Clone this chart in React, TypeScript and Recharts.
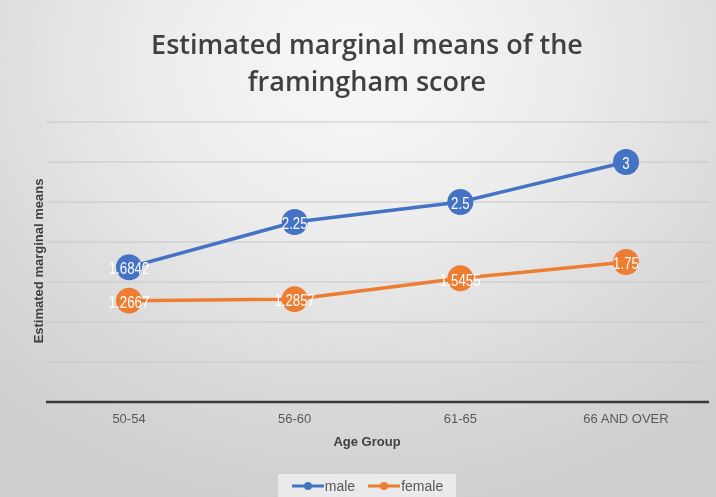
import React from 'react';
import { LineChart, Line, XAxis, YAxis, CartesianGrid, LabelList } from 'recharts';

const categories = ['50-54', '56-60', '61-65', '66 AND OVER'];
const maleValues = [1.6842, 2.25, 2.5, 3];
const femaleValues = [1.2667, 1.2857, 1.5455, 1.75];
const yTicks = [0, 0.5, 1, 1.5, 2, 2.5, 3, 3.5];

const data = categories.map((c, i) => ({ cat: c, male: maleValues[i], female: femaleValues[i] }));

const W = 716;
const H = 497;
const BLUE = '#4472C4';
const ORANGE = '#ED7D31';

const renderLabel = (props: any) => {
  const { x, y, value } = props;
  return (
    <text
      transform={`translate(${x},${y}) scale(0.78,1)`}
      x={0}
      y={1}
      textAnchor="middle"
      dominantBaseline="central"
      fill="#ffffff"
      fontSize={17}
      fontFamily="'Liberation Sans', Arial, sans-serif"
    >
      {value}
    </text>
  );
};

const Dot = (color: string) => (props: any) => {
  const { cx, cy } = props;
  return <circle cx={cx} cy={cy} r={13} fill={color} stroke="none" />;
};

export default function App() {
  return (
    <div
      style={{
        position: 'fixed',
        left: 0,
        top: 0,
        width: W,
        height: H,
        background: 'radial-gradient(ellipse 75% 90% at 50% 12%, #f8f8f8 0%, #ececec 40%, #dcdcdc 70%, #cfcfcf 100%)',
        fontFamily: "'Liberation Sans', Arial, sans-serif",
        overflow: 'hidden',
      }}
    >
      <div
        style={{
          position: 'absolute',
          left: 0,
          width: W,
          top: 25,
          textAlign: 'center',
          fontFamily: "'Open Sans', 'Noto Sans', sans-serif",
          fontWeight: 600,
          fontSize: 27,
          lineHeight: '37px',
          color: '#404040',
          paddingLeft: 18,
          boxSizing: 'border-box',
        }}
      >
        Estimated marginal means of the
        <br />
        framingham score
      </div>
      <LineChart
        width={W}
        height={H}
        data={data}
        margin={{ top: 122, right: 7, left: 46, bottom: 65 }}
      >
        <CartesianGrid horizontal vertical={false} stroke="#c8c8c8" strokeWidth={1.2} />
        <YAxis hide domain={[0, 3.5]} ticks={yTicks} />
        <XAxis
          dataKey="cat"
          height={30}
          padding={{ left: 83, right: 83 }}
          axisLine={{ stroke: '#3a3a3a', strokeWidth: 2.5 }}
          tickLine={false}
          tickMargin={6}
          tick={{ fill: '#595959', fontSize: 13 }}
        />
        <Line
          dataKey="male"
          stroke={BLUE}
          strokeWidth={3.5}
          dot={Dot(BLUE)}
          isAnimationActive={false}
        >
          <LabelList dataKey="male" content={renderLabel} />
        </Line>
        <Line
          dataKey="female"
          stroke={ORANGE}
          strokeWidth={3.5}
          dot={Dot(ORANGE)}
          isAnimationActive={false}
        >
          <LabelList dataKey="female" content={renderLabel} />
        </Line>
      </LineChart>
      <div
        style={{
          position: 'absolute',
          left: 0,
          width: W,
          top: 434,
          textAlign: 'center',
          fontWeight: 700,
          fontSize: 13,
          color: '#404040',
          paddingLeft: 18,
          boxSizing: 'border-box',
        }}
      >
        Age Group
      </div>
      <div
        style={{
          position: 'absolute',
          left: 38,
          top: 261,
          transform: 'translate(-50%, -50%) rotate(-90deg)',
          whiteSpace: 'nowrap',
          fontWeight: 700,
          fontSize: 13,
          color: '#404040',
        }}
      >
        Estimated marginal means
      </div>
      <div
        style={{
          position: 'absolute',
          left: 278,
          top: 474,
          width: 178,
          height: 23,
          background: 'rgba(245,245,245,0.7)',
          display: 'flex',
          alignItems: 'center',
          justifyContent: 'center',
          fontSize: 14,
          color: '#595959',
          gap: 12,
        }}
      >
        <span style={{ display: 'flex', alignItems: 'center' }}>
          <svg width={34} height={10}>
            <line x1={1} y1={5} x2={33} y2={5} stroke={BLUE} strokeWidth={3} />
            <circle cx={17} cy={5} r={4} fill={BLUE} />
          </svg>
          male
        </span>
        <span style={{ display: 'flex', alignItems: 'center' }}>
          <svg width={34} height={10}>
            <line x1={1} y1={5} x2={33} y2={5} stroke={ORANGE} strokeWidth={3} />
            <circle cx={17} cy={5} r={4} fill={ORANGE} />
          </svg>
          female
        </span>
      </div>
    </div>
  );
}
